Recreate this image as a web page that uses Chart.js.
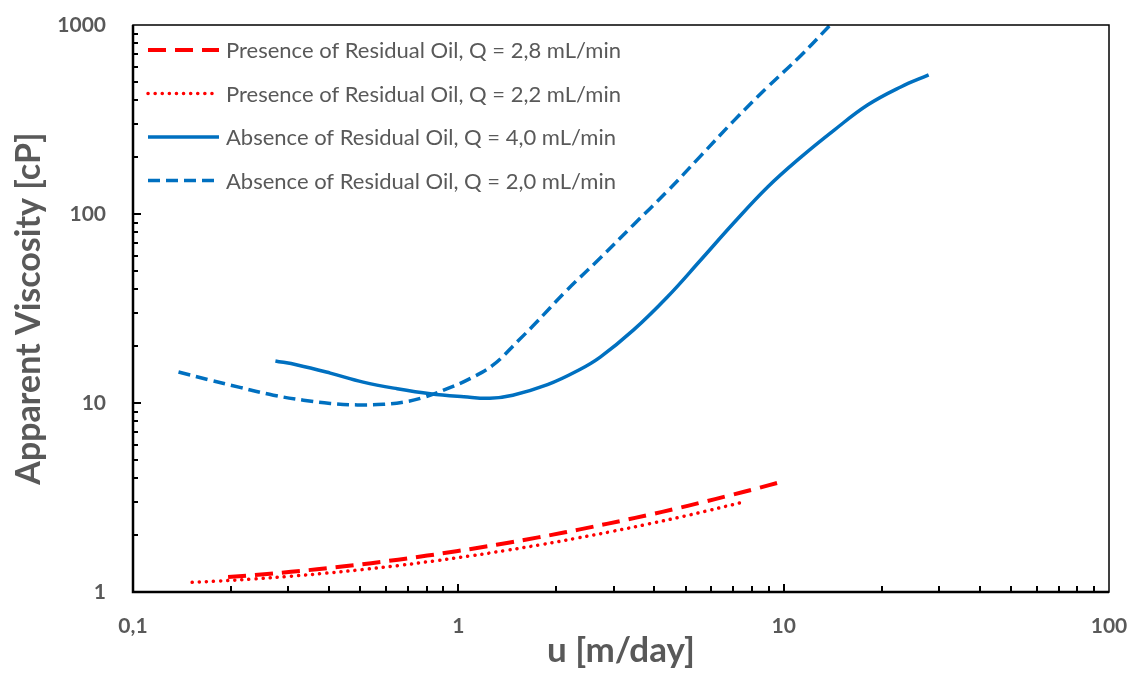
<!DOCTYPE html>
<html lang="en">
<head>
    <meta charset="UTF-8">
    <title>Apparent Viscosity vs u</title>
    <script src="https://cdn.jsdelivr.net/npm/chart.js"></script>
    <style>
        body {
            margin: 0;
            background: #fff;
        }
        #wrap {
            width: 1136px;
            height: 673px;
        }
    </style>
</head>
<body>
<div id="wrap"><canvas id="viscChart"></canvas></div>
<script>
    // Axis ticks
    const xTicks = [0.1, 1, 10, 100];
    const yTicks = [1, 10, 100, 1000];

    // Presence of residual oil, Q = 2,8 mL/min
    const pres28U = [0.196, 0.253, 0.306, 0.368, 0.446, 0.540, 0.653, 0.803, 0.986, 1.19, 1.44, 1.76, 2.13, 2.58, 3.17, 3.85, 4.65, 5.60, 6.77, 8.32, 9.79];
    const pres28Mu = [1.20, 1.241, 1.278, 1.319, 1.367, 1.421, 1.483, 1.558, 1.643, 1.73, 1.827, 1.945, 2.069, 2.211, 2.38, 2.56, 2.758, 2.979, 3.233, 3.541, 3.82];

    // Presence of residual oil, Q = 2,2 mL/min
    const pres22U = [0.152, 0.184, 0.237, 0.306, 0.392, 0.507, 0.653, 0.843, 1.08, 1.40, 1.80, 2.31, 2.98, 3.85, 4.96, 5.96, 7.32];
    const pres22Mu = [1.125, 1.143, 1.173, 1.212, 1.258, 1.314, 1.38, 1.46, 1.549, 1.659, 1.782, 1.926, 2.094, 2.293, 2.522, 2.715, 2.958];

    // Absence of residual oil, Q = 4,0 mL/min
    const abs40U = [0.274, 0.320, 0.404, 0.510, 0.649, 0.820, 1.04, 1.25, 1.47, 1.88, 2.34, 2.73, 3.45, 4.39, 5.56, 7.02, 8.93, 11.3, 14.3, 18.1, 22.9, 27.9];
    const abs40Mu = [16.7, 15.9, 14.4, 12.9, 11.9, 11.2, 10.8, 10.6, 11.0, 12.5, 14.9, 17.5, 24.3, 36.4, 57.1, 89.6, 139, 200, 278, 377, 470, 544];

    // Absence of residual oil, Q = 2,0 mL/min
    const abs20U = [0.138, 0.170, 0.213, 0.270, 0.334, 0.404, 0.489, 0.588, 0.677, 0.780, 0.925, 1.09, 1.28, 1.53, 1.70, 2.16, 2.73, 3.45, 4.39, 5.56, 7.02, 8.93, 11.3, 13.9];
    const abs20Mu = [14.6, 13.3, 12.1, 11.0, 10.35, 9.95, 9.77, 9.84, 10.1, 10.7, 11.9, 13.5, 15.9, 21.4, 25.7, 39.6, 58.5, 87.5, 132, 203, 311, 470, 690, 1000];

    const textGrey = '#595959';
    Chart.defaults.font.family = 'Lato, "Open Sans", sans-serif';

    function pairs(xs, ys) {
        return xs.map((x, i) => ({ x: x, y: ys[i] }));
    }

    // legend drawn inside the plot, top-left
    const insideLegend = {
        id: 'insideLegend',
        afterDraw(chart) {
            const ctx = chart.ctx;
            const a = chart.chartArea;
            ctx.save();
            chart.data.datasets.forEach((ds, i) => {
                const y = a.top + 25 + i * 43.5;
                ctx.beginPath();
                ctx.strokeStyle = ds.borderColor;
                ctx.lineWidth = ds.borderWidth;
                ctx.lineCap = ds.borderCapStyle || 'butt';
                ctx.setLineDash(ds.borderDash || []);
                ctx.moveTo(a.left + 15, y);
                ctx.lineTo(a.left + 86, y);
                ctx.stroke();
                ctx.setLineDash([]);
                ctx.fillStyle = textGrey;
                ctx.font = '22px Lato, "Open Sans", sans-serif';
                ctx.textBaseline = 'middle';
                ctx.fillText(ds.label, a.left + 93, y + 1);
            });
            ctx.restore();
        }
    };

    // frame and inward log tick marks
    const axisFrame = {
        id: 'axisFrame',
        afterDatasetsDraw(chart) {
            const ctx = chart.ctx;
            const a = chart.chartArea;
            const xs = chart.scales.x, ys = chart.scales.y;
            ctx.save();
            ctx.strokeStyle = '#000';
            ctx.lineWidth = 2;
            ctx.beginPath();
            for (let e = -1; e <= 1; e++) {
                for (let k = 1; k <= 9; k++) {
                    const px = Math.round(xs.getPixelForValue(k * Math.pow(10, e)));
                    const len = k === 1 ? 8 : 6;
                    ctx.moveTo(px, a.bottom);
                    ctx.lineTo(px, a.bottom - len);
                }
            }
            for (let e = 0; e <= 2; e++) {
                for (let k = 1; k <= 9; k++) {
                    const py = Math.round(ys.getPixelForValue(k * Math.pow(10, e)));
                    const len = k === 1 ? 8 : 5;
                    ctx.moveTo(a.left, py);
                    ctx.lineTo(a.left + len, py);
                }
            }
            ctx.stroke();
            ctx.lineWidth = 1.5;
            ctx.strokeRect(a.left, a.top, a.right - a.left, a.bottom - a.top);
            ctx.lineWidth = 2.5;
            ctx.beginPath();
            ctx.moveTo(a.left, a.top);
            ctx.lineTo(a.left, a.bottom);
            ctx.lineTo(a.right, a.bottom);
            ctx.stroke();
            ctx.restore();
        }
    };

    new Chart(document.getElementById('viscChart'), {
        type: 'line',
        data: {
            datasets: [
                {
                    label: 'Presence of Residual Oil, Q = 2,8 mL/min',
                    data: pairs(pres28U, pres28Mu),
                    borderColor: '#FF0000',
                    borderWidth: 4,
                    borderDash: [18, 9],
                    pointRadius: 0,
                    tension: 0.4
                },
                {
                    label: 'Presence of Residual Oil, Q = 2,2 mL/min',
                    data: pairs(pres22U, pres22Mu),
                    borderColor: '#FF0000',
                    borderWidth: 3.5,
                    borderDash: [0.1, 7],
                    borderCapStyle: 'round',
                    pointRadius: 0,
                    tension: 0.4
                },
                {
                    label: 'Absence of Residual Oil, Q = 4,0 mL/min',
                    data: pairs(abs40U, abs40Mu),
                    borderColor: '#0070C0',
                    borderWidth: 3.5,
                    pointRadius: 0,
                    tension: 0.4
                },
                {
                    label: 'Absence of Residual Oil, Q = 2,0 mL/min',
                    data: pairs(abs20U, abs20Mu),
                    borderColor: '#0070C0',
                    borderWidth: 3.5,
                    borderDash: [12, 6],
                    pointRadius: 0,
                    tension: 0.4
                }
            ]
        },
        options: {
            responsive: true,
            maintainAspectRatio: false,
            animation: false,
            layout: {
                padding: { top: 25, right: 27, left: 0, bottom: 0 }
            },
            plugins: {
                legend: { display: false },
                tooltip: { enabled: false }
            },
            scales: {
                x: {
                    type: 'logarithmic',
                    min: 0.1,
                    max: 100,
                    border: { display: false },
                    grid: { display: false, drawTicks: false },
                    afterBuildTicks: scale => {
                        scale.ticks = xTicks.map(v => ({ value: v }));
                    },
                    afterFit: scale => {
                        scale.height = 81;
                        scale.paddingLeft = 0;
                        scale.paddingRight = 0;
                    },
                    ticks: {
                        autoSkip: false,
                        maxRotation: 0,
                        padding: 22,
                        color: textGrey,
                        font: { size: 21, weight: 'bold' },
                        callback: v => String(v).replace('.', ',')
                    },
                    title: {
                        display: true,
                        text: 'u [m/day]',
                        color: textGrey,
                        font: { size: 35, weight: 'bold' },
                        padding: { top: 0, bottom: 1 }
                    }
                },
                y: {
                    type: 'logarithmic',
                    min: 1,
                    max: 1000,
                    border: { display: false },
                    grid: { display: false, drawTicks: false },
                    afterBuildTicks: scale => {
                        scale.ticks = yTicks.map(v => ({ value: v }));
                    },
                    afterFit: scale => {
                        scale.width = 133;
                        scale.paddingTop = 0;
                        scale.paddingBottom = 0;
                    },
                    ticks: {
                        autoSkip: false,
                        padding: 27,
                        color: textGrey,
                        font: { size: 21, weight: 'bold' },
                        callback: v => String(v)
                    },
                    title: {
                        display: true,
                        text: 'Apparent Viscosity [cP]',
                        color: textGrey,
                        font: { size: 34, weight: 'bold' },
                        padding: { top: 9, bottom: 0 }
                    }
                }
            }
        },
        plugins: [axisFrame, insideLegend]
    });
</script>
</body>
</html>
